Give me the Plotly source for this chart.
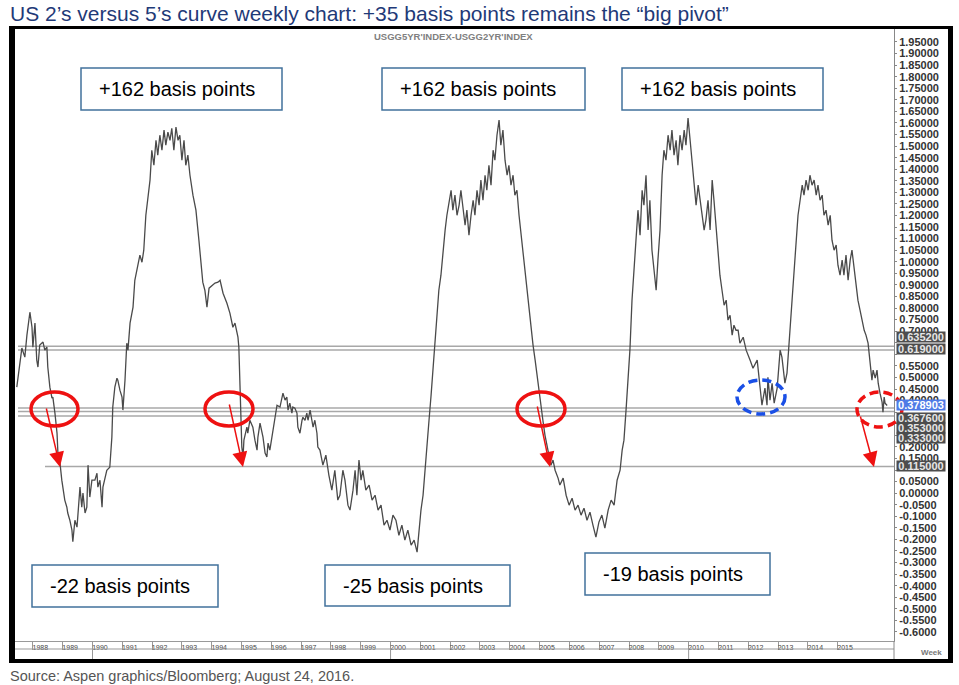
import plotly.graph_objects as go

# ---------------- data (decimal year, spread in %) ----------------
week = [
    1987.46, 1987.53, 1987.63, 1987.73, 1987.80, 1987.90, 1987.97, 1988.00, 1988.07, 1988.13,
    1988.17, 1988.23, 1988.34, 1988.40, 1988.47, 1988.50, 1988.57, 1988.64, 1988.67, 1988.74,
    1988.81, 1988.84, 1988.91, 1988.97, 1989.01, 1989.07, 1989.14, 1989.17, 1989.24, 1989.31,
    1989.34, 1989.38, 1989.41, 1989.48, 1989.51, 1989.58, 1989.64, 1989.68, 1989.75, 1989.81,
    1989.85, 1989.91, 1989.98, 1990.08, 1990.15, 1990.18, 1990.25, 1990.32, 1990.35, 1990.42,
    1990.48, 1990.58, 1990.65, 1990.68, 1990.75, 1990.82, 1990.85, 1990.92, 1990.99, 1991.02,
    1991.09, 1991.15, 1991.19, 1991.26, 1991.36, 1991.42,
    1991.49, 1991.59, 1991.66, 1991.72, 1991.79, 1991.86, 1991.93, 1991.99, 1992.06, 1992.13,
    1992.19, 1992.26, 1992.33, 1992.40, 1992.46, 1992.53, 1992.60, 1992.66, 1992.73, 1992.80,
    1992.87, 1992.93, 1993.00, 1993.07, 1993.13, 1993.20, 1993.27, 1993.37, 1993.47, 1993.57,
    1993.64, 1993.70, 1993.77, 1993.84, 1993.91, 1994.01, 1994.11, 1994.21, 1994.28, 1994.38,
    1994.51, 1994.61, 1994.71, 1994.78, 1994.88, 1994.91, 1994.95, 1994.98, 1995.01, 1995.05,
    1995.08, 1995.18, 1995.21, 1995.28, 1995.38, 1995.45, 1995.52, 1995.55, 1995.62, 1995.72,
    1995.79, 1995.85, 1995.89, 1995.95, 1996.02, 1996.05, 1996.12, 1996.19, 1996.29, 1996.39,
    1996.46, 1996.52, 1996.56, 1996.62, 1996.69, 1996.72, 1996.79, 1996.86, 1996.89, 1996.96,
    1997.03, 1997.06, 1997.13, 1997.19, 1997.23, 1997.30, 1997.36, 1997.40, 1997.46, 1997.53,
    1997.56,
    1997.63, 1997.73, 1997.83, 1997.93, 1998.03, 1998.13, 1998.23, 1998.30, 1998.40, 1998.47,
    1998.57, 1998.64, 1998.74, 1998.81, 1998.87, 1998.94, 1999.01, 1999.07, 1999.17, 1999.28,
    1999.38, 1999.48, 1999.58, 1999.68, 1999.78, 1999.88, 1999.98, 2000.08, 2000.18, 2000.28,
    2000.38, 2000.48, 2000.58, 2000.69, 2000.79, 2000.89, 2000.95, 2001.02, 2001.09, 2001.15,
    2001.22, 2001.29, 2001.36, 2001.42, 2001.49, 2001.56, 2001.62, 2001.69, 2001.76, 2001.83,
    2001.89, 2001.96, 2002.03, 2002.09, 2002.16, 2002.23, 2002.30, 2002.36, 2002.43, 2002.50,
    2002.56, 2002.63, 2002.70, 2002.77, 2002.83, 2002.90, 2002.97, 2003.03, 2003.10, 2003.17,
    2003.23, 2003.30, 2003.37, 2003.44, 2003.50, 2003.57, 2003.64, 2003.70, 2003.77, 2003.84,
    2003.91, 2003.97, 2004.04, 2004.11, 2004.17, 2004.24, 2004.31, 2004.38, 2004.44, 2004.51,
    2004.58, 2004.64, 2004.71, 2004.78, 2004.85, 2004.91, 2004.98, 2005.05, 2005.11, 2005.18,
    2005.25, 2005.32, 2005.38, 2005.45, 2005.52, 2005.62,
    2005.68, 2005.79, 2005.89, 2005.99, 2006.09, 2006.19, 2006.29, 2006.39, 2006.49, 2006.59,
    2006.69, 2006.79, 2006.89, 2006.99, 2007.09, 2007.19, 2007.30, 2007.40, 2007.50, 2007.60,
    2007.70, 2007.77, 2007.83, 2007.90, 2007.97, 2008.03, 2008.10, 2008.17,
    2008.23, 2008.30, 2008.37, 2008.44, 2008.50, 2008.57, 2008.64, 2008.70, 2008.77, 2008.84,
    2008.91, 2008.97, 2009.04, 2009.11, 2009.17, 2009.24, 2009.31, 2009.38, 2009.44, 2009.51,
    2009.58, 2009.64, 2009.71, 2009.78, 2009.85, 2009.91, 2009.98, 2010.05, 2010.11, 2010.18,
    2010.25, 2010.32, 2010.38, 2010.45, 2010.52, 2010.58, 2010.65, 2010.72, 2010.79, 2010.85,
    2010.92, 2010.99, 2011.05, 2011.12, 2011.19, 2011.26, 2011.32, 2011.39, 2011.46, 2011.52,
    2011.59, 2011.66, 2011.72, 2011.83, 2011.93, 2012.06, 2012.16, 2012.30, 2012.40, 2012.46,
    2012.56, 2012.63, 2012.66, 2012.73, 2012.80, 2012.87, 2012.97, 2013.07, 2013.13, 2013.17,
    2013.23, 2013.30, 2013.34, 2013.40, 2013.47, 2013.54, 2013.60, 2013.67, 2013.74, 2013.81,
    2013.87, 2013.94, 2014.01, 2014.07, 2014.14, 2014.21, 2014.28, 2014.34, 2014.41, 2014.48,
    2014.54, 2014.61, 2014.68, 2014.75, 2014.81, 2014.88, 2014.95, 2015.01, 2015.08, 2015.15,
    2015.21, 2015.28, 2015.35, 2015.42, 2015.48, 2015.55, 2015.62, 2015.68, 2015.75, 2015.82,
    2015.89, 2015.95, 2016.02, 2016.09, 2016.15, 2016.19, 2016.26, 2016.32, 2016.36, 2016.42,
    2016.49, 2016.52, 2016.56, 2016.59, 2016.66,
]

spread = [
    0.458, 0.532, 0.627, 0.588, 0.683, 0.782, 0.717, 0.631, 0.735, 0.575,
    0.545, 0.640, 0.653, 0.618, 0.631, 0.545, 0.458, 0.411, 0.415, 0.346,
    0.259, 0.173, 0.130, 0.056, 0.013, -0.030, -0.061, -0.086, -0.117, -0.160,
    -0.210, -0.138, -0.117, -0.147, -0.086, 0.026, -0.061, 0.000, -0.086, -0.061,
    0.121, -0.017, 0.056, 0.056, 0.086, 0.026, 0.056, -0.061, 0.026, 0.065,
    0.099, 0.112, 0.242, 0.372, 0.458, 0.497, 0.488, 0.445, 0.415, 0.359,
    0.488, 0.648, 0.618, 0.735, 0.804, 0.920,
    0.964, 1.029, 0.998, 1.050, 1.201, 1.288, 1.353, 1.482, 1.417, 1.525,
    1.461, 1.547, 1.482, 1.569, 1.504, 1.560, 1.525, 1.577, 1.482, 1.582,
    1.525, 1.547, 1.439, 1.525, 1.417, 1.461, 1.374, 1.288, 1.223, 1.093,
    1.007, 0.912, 0.877, 0.804, 0.886, 0.899, 0.908, 0.912, 0.920, 0.864,
    0.821, 0.778, 0.717, 0.735, 0.674, 0.631, 0.488, 0.346, 0.199, 0.156,
    0.229, 0.285, 0.259, 0.315, 0.285, 0.229, 0.186, 0.242, 0.303, 0.242,
    0.173, 0.156, 0.216, 0.186, 0.242, 0.259, 0.315, 0.380, 0.372, 0.432,
    0.402, 0.415, 0.359, 0.389, 0.346, 0.372, 0.367, 0.346, 0.285, 0.259,
    0.315, 0.328, 0.315, 0.346, 0.315, 0.359, 0.315, 0.285, 0.315, 0.259,
    0.199,
    0.186, 0.121, 0.164, 0.078, 0.013, 0.099, -0.030, -0.009, 0.099, 0.056,
    -0.052, -0.073, 0.013, 0.099, -0.009, 0.143, 0.056, 0.099, 0.013, 0.035,
    -0.030, -0.009, -0.073, -0.052, -0.138, -0.117, -0.160, -0.095, -0.117, -0.182,
    -0.138, -0.203, -0.160, -0.225, -0.203, -0.255, -0.160, -0.073, -0.009, 0.099,
    0.229, 0.315, 0.424, 0.532, 0.683, 0.791, 0.877, 0.942, 1.050, 1.137,
    1.201, 1.266, 1.309, 1.223, 1.288, 1.201, 1.245, 1.309, 1.223, 1.158,
    1.223, 1.115, 1.201, 1.266, 1.201, 1.309, 1.245, 1.353, 1.266, 1.374,
    1.309, 1.417, 1.331, 1.482, 1.439, 1.547, 1.612, 1.504, 1.569, 1.439,
    1.374, 1.417, 1.331, 1.374, 1.288, 1.309, 1.201, 1.115, 1.029, 0.964,
    0.877, 0.812, 0.704, 0.640, 0.575, 0.510, 0.445, 0.380, 0.315, 0.251,
    0.207, 0.151, 0.121, 0.143, 0.099, 0.065,
    0.035, 0.065, -0.009, -0.052, -0.022, -0.073, -0.052, -0.095, -0.065, -0.117,
    -0.082, -0.138, -0.190, -0.125, -0.095, -0.151, -0.073, -0.030, -0.052, 0.056,
    0.099, 0.186, 0.229, 0.359, 0.488, 0.618, 0.834, 0.985,
    1.093, 1.223, 1.115, 1.309, 1.245, 1.374, 1.137, 1.266, 1.050, 0.964,
    0.877, 1.007, 1.137, 1.374, 1.482, 1.439, 1.547, 1.482, 1.569, 1.461,
    1.525, 1.417, 1.547, 1.482, 1.569, 1.504, 1.621, 1.525, 1.439, 1.331,
    1.245, 1.331, 1.266, 1.201, 1.137, 1.180, 1.266, 1.137, 1.353, 1.266,
    1.137, 1.029, 0.942, 0.877, 0.812, 0.834, 0.748, 0.769, 0.683, 0.726,
    0.704, 0.704, 0.648, 0.674, 0.618, 0.575, 0.540, 0.575, 0.467, 0.380,
    0.454, 0.380, 0.501, 0.402, 0.475, 0.389, 0.454, 0.618, 0.588, 0.545,
    0.475, 0.519, 0.618, 0.704, 0.834, 0.964, 1.093, 1.201, 1.266, 1.331,
    1.288, 1.353, 1.309, 1.374, 1.331, 1.353, 1.288, 1.331, 1.266, 1.288,
    1.201, 1.223, 1.158, 1.201, 1.093, 1.050, 1.072, 0.985, 0.942, 1.007,
    0.942, 1.029, 0.920, 1.007, 1.050, 0.964, 0.877, 0.834, 0.791, 0.748,
    0.704, 0.683, 0.648, 0.562, 0.488, 0.532, 0.497, 0.532, 0.475, 0.432,
    0.393, 0.350, 0.415, 0.389, 0.3789,
]

# horizontal reference levels and their right-axis tags
levels = [0.6352, 0.619, 0.3676, 0.353, 0.333, 0.115]
level_tags = ["0.635200", "0.619000", "0.367600", "0.353000", "0.333000", "0.115000"]
last_value = 0.378903
last_tag = "0.378903"

# year labels on the bottom strip
years = list(range(1988, 2016))
decades = [1990, 2000, 2010]

# right-axis ticks (labels hidden where the level tags cover them)
y_ticks = [round(-0.60 + 0.05 * i, 2) for i in range(52)]
covered = [0.65, 0.60, 0.35, 0.30, 0.25, 0.10]
y_text = [("" if v in covered else (("%.5f" % v) if v >= 0 else ("%.4f" % v))) for v in y_ticks]

# annotation texts
up_text = "+162 basis points"
down_texts = ["-22 basis points", "-25 basis points", "-19 basis points"]

# ---------------- geometry helpers (pixel -> paper) ----------------
W, H = 959, 685
PL, PR, PT, PB = 15, 894, 29, 641


def fx(px):
    return (px - PL) / (PR - PL)


def fy(py):
    return (PB - py) / (PB - PT)


FONT = "Liberation Sans"

fig = go.Figure()
fig.add_trace(go.Scatter(x=week, y=spread, mode="lines",
                         line=dict(color="#4a4a4a", width=1.3),
                         hoverinfo="skip", showlegend=False))

shapes = []
annotations = []

# reference level lines
for v in levels:
    x0 = fx(45) if v < 0.2 else fx(18)
    shapes.append(dict(type="line", xref="paper", yref="y", x0=x0, x1=1, y0=v, y1=v,
                       line=dict(color="#a8a8a8", width=1.5), layer="below"))

# bottom strip lines
shapes.append(dict(type="line", xref="paper", yref="paper", x0=0, x1=1, y0=fy(649), y1=fy(649),
                   line=dict(color="#999999", width=1)))
for d in decades:
    shapes.append(dict(type="line", xref="x", yref="paper", x0=d, x1=d, y0=fy(649), y1=fy(659),
                       line=dict(color="#999999", width=1)))
shapes.append(dict(type="line", xref="paper", yref="paper", x0=1, x1=1, y0=fy(641), y1=fy(659),
                   line=dict(color="#888888", width=1)))

# black frame
shapes.append(dict(type="line", xref="paper", yref="paper", x0=fx(9), x1=fx(953), y0=fy(27.5), y1=fy(27.5),
                   line=dict(color="black", width=3)))
shapes.append(dict(type="line", xref="paper", yref="paper", x0=fx(12), x1=fx(12), y0=fy(26), y1=fy(663),
                   line=dict(color="black", width=6)))
shapes.append(dict(type="line", xref="paper", yref="paper", x0=fx(950.5), x1=fx(950.5), y0=fy(26), y1=fy(663),
                   line=dict(color="black", width=5)))
shapes.append(dict(type="line", xref="paper", yref="paper", x0=fx(9), x1=fx(953), y0=fy(661), y1=fy(661),
                   line=dict(color="black", width=4)))

# ellipses
for (x0, x1, y0, y1) in [(31, 78, 392, 426), (205, 253, 392, 426), (517, 565, 392, 426)]:
    shapes.append(dict(type="circle", xref="paper", yref="paper", x0=fx(x0), x1=fx(x1), y0=fy(y1), y1=fy(y0),
                       line=dict(color="#ee1111", width=3.5)))
shapes.append(dict(type="circle", xref="paper", yref="paper", x0=fx(737), x1=fx(785), y0=fy(414), y1=fy(380),
                   line=dict(color="#1a4fe6", width=3.5, dash="9px,5px")))
shapes.append(dict(type="circle", xref="paper", yref="paper", x0=fx(857), x1=fx(902), y0=fy(427), y1=fy(392),
                   line=dict(color="#ee1111", width=3.5, dash="9px,5px")))

# text boxes
boxes_up = [(81, 282), (382, 585), (622, 823)]
for (x0, x1) in boxes_up:
    shapes.append(dict(type="rect", xref="paper", yref="paper", x0=fx(x0), x1=fx(x1), y0=fy(110), y1=fy(68),
                       line=dict(color="#41719C", width=1.5), fillcolor="white"))
    annotations.append(dict(xref="paper", yref="paper", x=fx(x0 + 16), y=fy(89), xanchor="left", yanchor="middle",
                            text=up_text, showarrow=False, font=dict(family=FONT, size=20, color="black")))
boxes_dn = [(32, 218, 565, 607), (325, 510, 565, 606), (585, 770, 553, 595)]
for (x0, x1, y0, y1), t in zip(boxes_dn, down_texts):
    shapes.append(dict(type="rect", xref="paper", yref="paper", x0=fx(x0), x1=fx(x1), y0=fy(y1), y1=fy(y0),
                       line=dict(color="#41719C", width=1.5), fillcolor="white"))
    annotations.append(dict(xref="paper", yref="paper", x=fx(x0 + 16), y=fy((y0 + y1) / 2), xanchor="left",
                            yanchor="middle", text=t, showarrow=False,
                            font=dict(family=FONT, size=20, color="black")))

# red arrows (head, tail) in pixels
for (hx, hy, tx, ty) in [(60, 467, 46, 407), (243, 467, 229, 403), (550, 467, 537, 405), (874, 467, 860, 415)]:
    annotations.append(dict(xref="paper", yref="paper", x=fx(hx), y=fy(hy), ax=tx - hx, ay=ty - hy,
                            text="", showarrow=True, arrowhead=2, arrowsize=2, arrowwidth=1.5,
                            arrowcolor="#ee1111"))

# right-axis tags
tag_pos_px = [337, 349, 418, 428, 438, 466]
for t, p in zip(level_tags, tag_pos_px):
    annotations.append(dict(xref="paper", yref="paper", x=fx(896), y=fy(p), xanchor="left", yanchor="middle",
                            text=t, showarrow=False, bgcolor="#4d4d4d", width=48, height=10, borderpad=0,
                            font=dict(family=FONT, size=11, color="#e6e6e6", weight="bold")))
annotations.append(dict(xref="paper", yref="y", x=fx(896), y=last_value, xanchor="left", yanchor="middle",
                        text=last_tag, showarrow=False, bgcolor="#4f7be6", width=48, height=10, borderpad=0,
                        font=dict(family=FONT, size=11, color="white", weight="bold")))

# titles / labels
annotations.append(dict(xref="paper", yref="paper", x=fx(8), y=fy(13), xanchor="left", yanchor="middle",
                        text="US 2\u2019s versus 5\u2019s curve weekly chart: +35 basis points remains the \u201cbig pivot\u201d",
                        showarrow=False, font=dict(family=FONT, size=21, color="#1f3a78")))
annotations.append(dict(xref="paper", yref="paper", x=fx(8), y=fy(676), xanchor="left", yanchor="middle",
                        text="Source: Aspen graphics/Bloomberg; August 24, 2016.",
                        showarrow=False, font=dict(family=FONT, size=14.5, color="#555555")))
annotations.append(dict(xref="paper", yref="paper", x=fx(453), y=fy(37), xanchor="center", yanchor="middle",
                        text="USGG5YR'INDEX-USGG2YR'INDEX", showarrow=False,
                        font=dict(family=FONT, size=9.5, color="#808080", weight="bold")))
annotations.append(dict(xref="paper", yref="paper", x=fx(931), y=fy(652), xanchor="center", yanchor="middle",
                        text="Week", showarrow=False,
                        font=dict(family=FONT, size=8, color="#777777", weight="bold")))

fig.update_layout(
    width=W, height=H, autosize=False,
    margin=dict(l=PL, r=W - PR, t=PT, b=H - PB),
    paper_bgcolor="white", plot_bgcolor="white",
    showlegend=False,
    shapes=shapes, annotations=annotations,
    xaxis=dict(range=[1987.40, 2016.89], showgrid=False, zeroline=False,
               showline=True, linecolor="#999999", linewidth=1,
               tickmode="array", tickvals=[y + 0.25 for y in years], ticktext=[str(y) for y in years],
               ticks="", tickfont=dict(family=FONT, size=7, color="#444444"),
               minor=dict(tickmode="array", tickvals=years, ticks="outside", ticklen=8,
                          tickcolor="#999999", tickwidth=1, showgrid=False)),
    yaxis=dict(range=[-0.639, 2.006], side="right", showgrid=False, zeroline=False,
               showline=True, linecolor="#888888", linewidth=1,
               tickmode="array", tickvals=y_ticks, ticktext=y_text,
               ticks="outside", ticklen=2, tickcolor="#888888",
               tickfont=dict(family=FONT, size=11, color="#333333", weight="bold")),
)

fig.write_html("out.html")
